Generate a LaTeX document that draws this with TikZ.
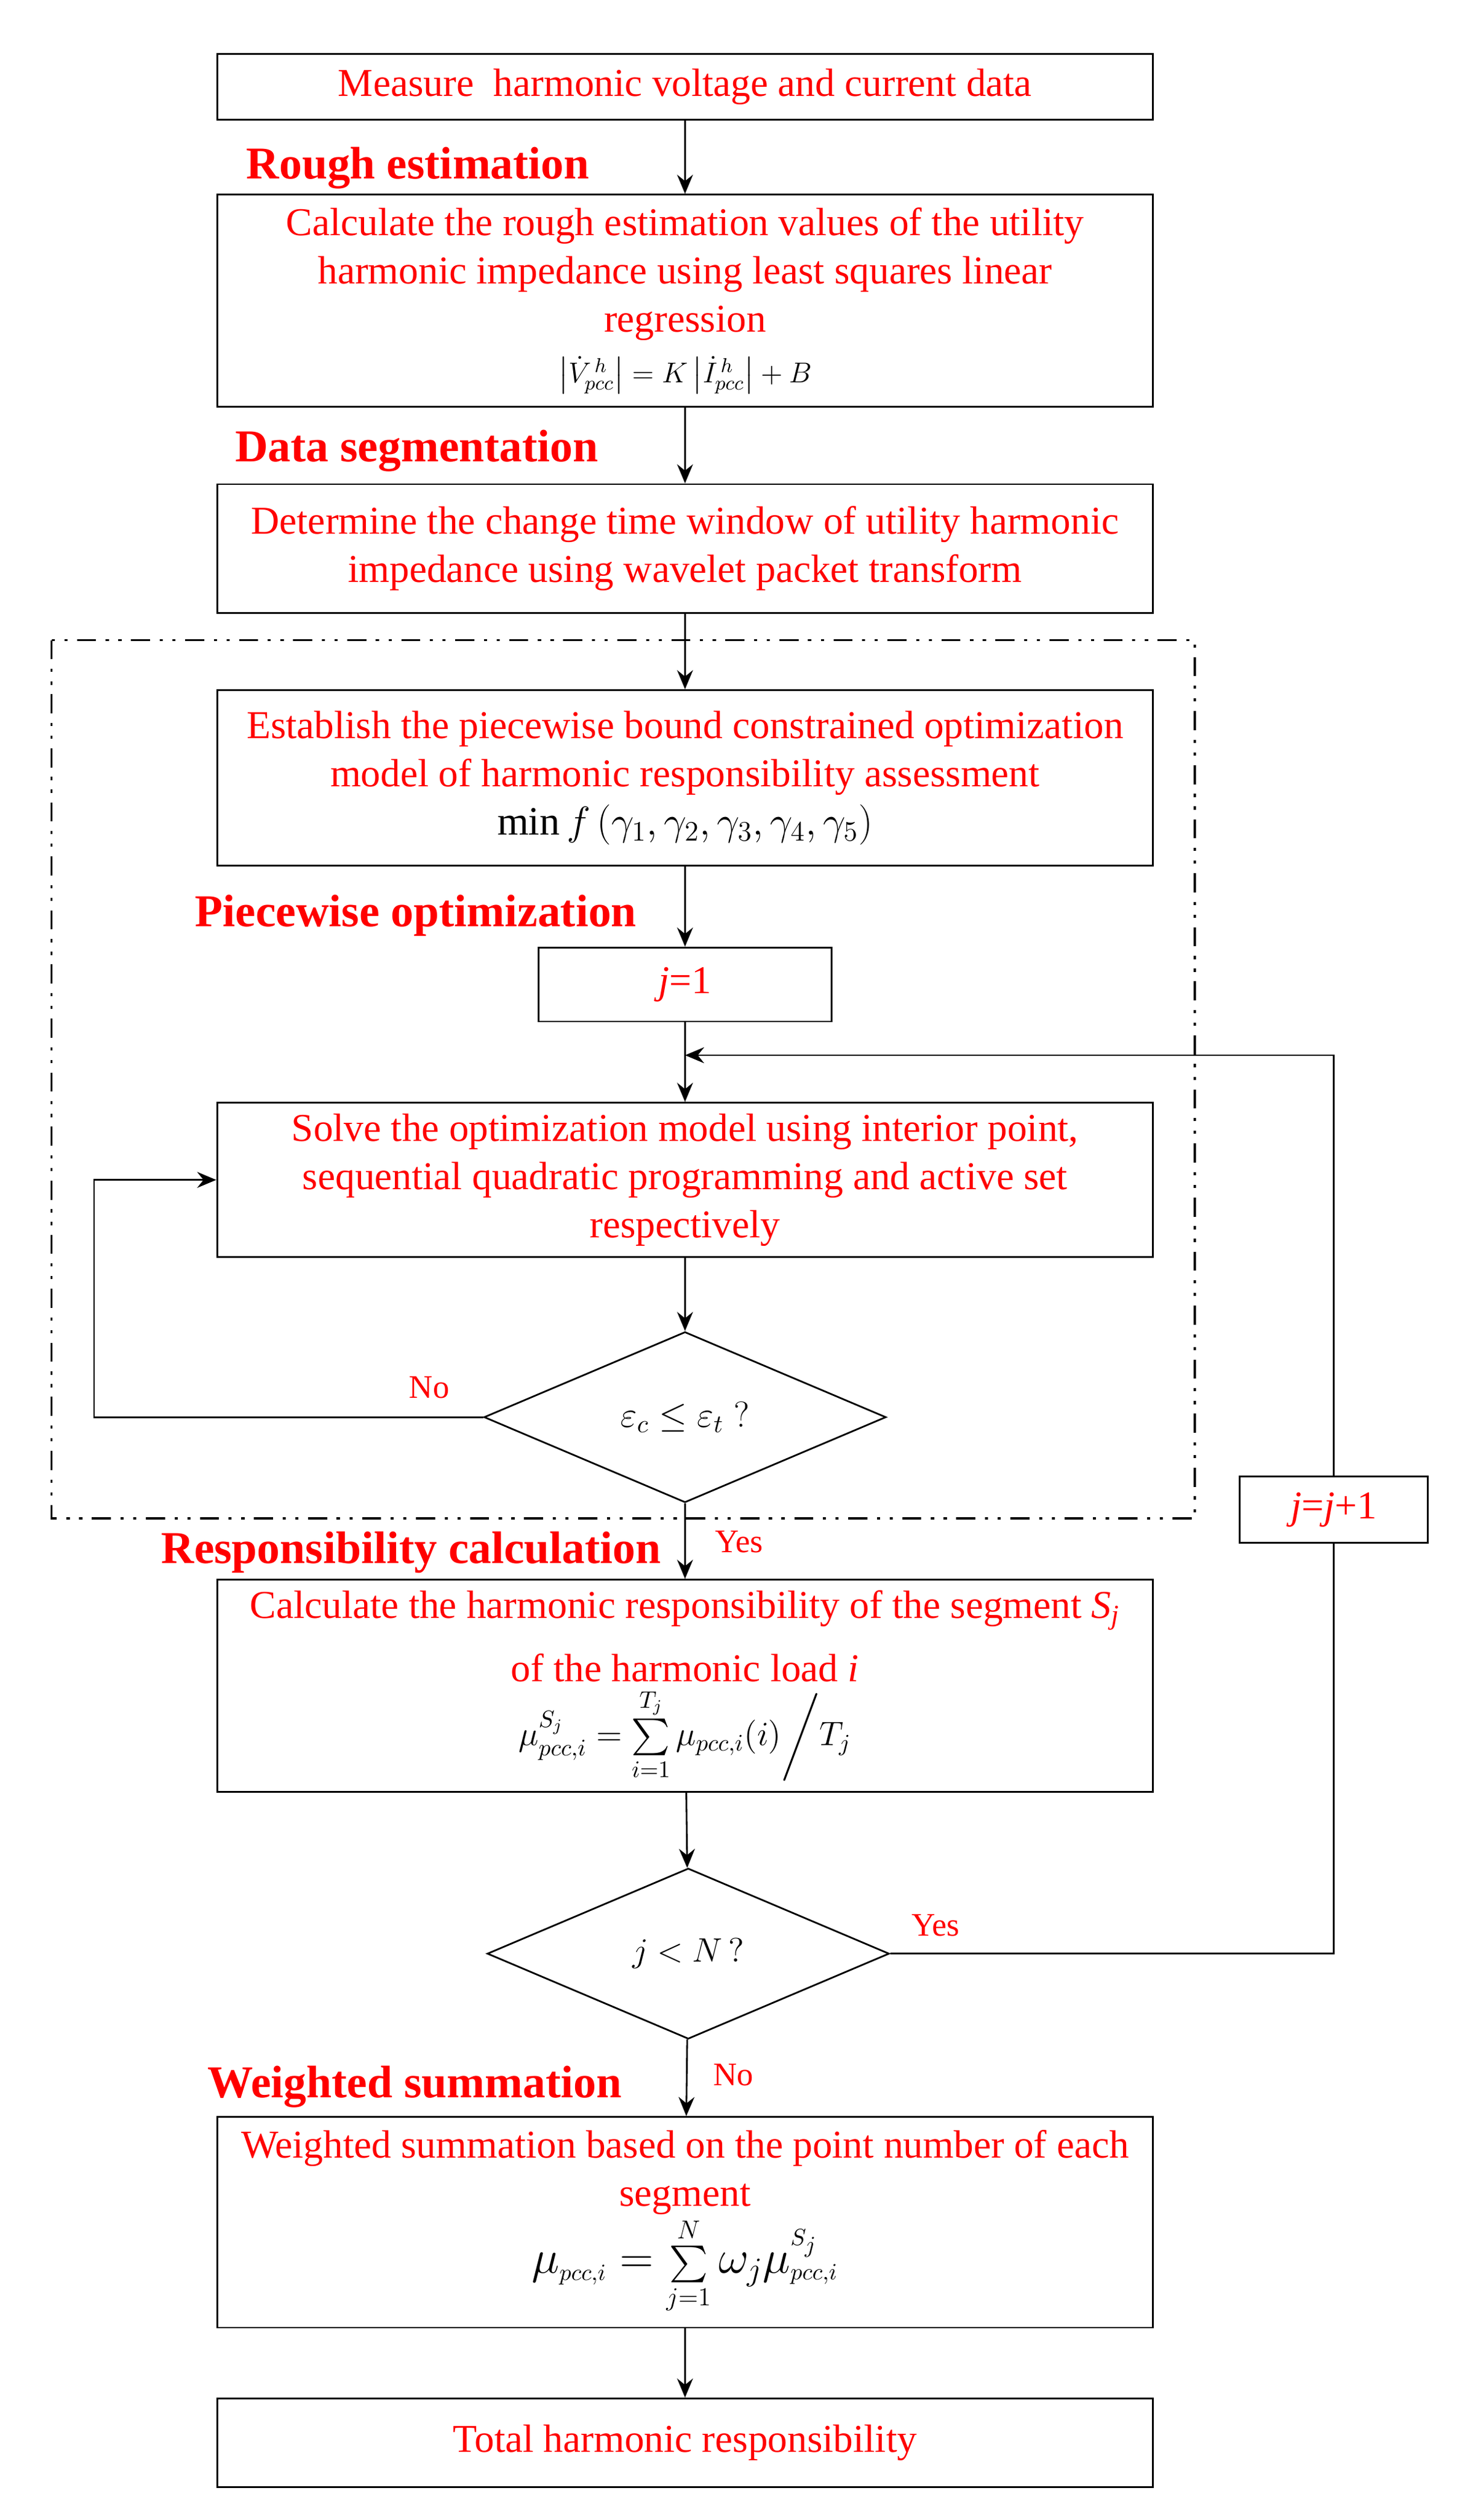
\RequirePackage{fix-cm}
\documentclass[tikz,border=0pt]{standalone}
\usepackage{exscale}
\usepackage{fontspec}
\setmainfont{Liberation Serif}
\usetikzlibrary{shapes.geometric,arrows.meta}

\begin{document}
\begin{tikzpicture}[x=0.26676mm,y=-0.26676mm,
 box/.style={draw,line width=0.8pt,minimum width=155.25mm,inner sep=0pt,align=center,text=red,font=\fontsize{18.6}{22.8}\selectfont},
 decision/.style={draw,diamond,line width=0.8pt,minimum width=66.69mm,minimum height=28.3mm,inner sep=0pt},
 stage/.style={anchor=base west,inner sep=0pt,text=red,font=\fontsize{21.5}{25}\selectfont\bfseries},
 lab/.style={inner sep=0pt,text=red,font=\fontsize{15.5}{18}\selectfont},
 flow/.style={line width=0.8pt,-{Stealth[length=9pt,width=7.5pt,inset=3pt]}},
 link/.style={line width=0.8pt},
 frame/.style={line width=1pt,dash pattern=on 9pt off 4.5pt on 1.5pt off 4.5pt on 1.5pt off 4.5pt}]
 \useasboundingbox (0,0) rectangle (906,1566.6);
 \node[box,minimum height=10.94mm] (measure) at (426,54) {Measure~ harmonic voltage and current data};
 \node[box,minimum height=35.21mm] (rough) at (426,187) {Calculate the rough estimation values of the utility\\ harmonic impedance using least squares linear\\ regression\\[1pt] {\color{black}\fontsize{13.5}{16}\selectfont $\left|\dot{V}^{\,h}_{pcc}\right| = K\left|\dot{I}^{\,h}_{pcc}\right| + B$}};
 \node[box,minimum height=21.34mm] (window) at (426,341) {Determine the change time window of utility harmonic\\ impedance using wavelet packet transform};
 \node[box,minimum height=29.08mm] (model) at (426,483.5) {Establish the piecewise bound constrained optimization\\ model of harmonic responsibility assessment\\ {\color{black}\fontsize{19}{22}\selectfont $\min f\left(\gamma_1,\gamma_2,\gamma_3,\gamma_4,\gamma_5\right)$}};
 \node[box,minimum width=48.55mm,minimum height=12.27mm] (start) at (426,612) {\textit{j}=1};
 \node[box,minimum height=25.61mm] (solve) at (426,733.5) {Solve the optimization model using interior point,\\ sequential quadratic programming and active set\\ respectively};
 \node[decision,font=\fontsize{17}{20}\selectfont] (conv) at (426,881) {$\varepsilon_c \le \varepsilon_t\;?$};
 \node[box,minimum height=35.21mm] (segresp) at (426,1048) {Calculate the harmonic responsibility of the segment \textit{S}\textsubscript{\textit{j}}\\[7pt] of the harmonic load \textit{i}\\[2pt] {\color{black}\fontsize{16}{19}\selectfont $\mu^{S_j}_{pcc,i} = \sum\limits_{i=1}^{T_j}\mu_{pcc,i}(i)\bigg/T_j$}};
 \node[decision,font=\fontsize{16}{19}\selectfont] (more) at (428,1214.5) {$j < N\,?$};
 \node[box,minimum width=31.21mm,minimum height=10.94mm] (inc) at (829.5,938.5) {\textit{j}=\textit{j}+1};
 \node[box,minimum height=34.95mm] (weight) at (426,1381.5) {Weighted summation based on the point number of each\\ segment\\ {\color{black}\fontsize{22}{26}\selectfont $\mu_{\scriptscriptstyle pcc,i} = \mbox{\fontsize{17.5}{20}\selectfont$\sum\limits_{j=1}^{N}$}\,\omega_j\mu^{\scriptscriptstyle S_j}_{\scriptscriptstyle pcc,i}$}};
 \node[box,minimum height=14.67mm] (total) at (426,1518.5) {Total harmonic responsibility};
 \node[stage] (hrough) at (153,111) {Rough estimation};
 \node[stage] (hdata) at (146,287) {Data segmentation};
 \node[stage] (hpiece) at (121,576) {Piecewise optimization};
 \node[stage] (hresp) at (100,972) {Responsibility calculation};
 \node[stage] (hweight) at (129,1304) {Weighted summation};
 \node[lab] (nofit) at (267,862.5) {No};
 \node[lab] (yesfit) at (459.5,958.5) {Yes};
 \node[lab] (yesmore) at (582,1197) {Yes};
 \node[lab] (nomore) at (456,1290) {No};
 \coordinate (join) at (426,656);
 \draw[frame] (32,398) rectangle (743,944);
 \draw[flow] (measure) -- (rough);
 \draw[flow] (rough) -- (window);
 \draw[flow] (window) -- (model);
 \draw[flow] (model) -- (start);
 \draw[flow] (start) -- (solve);
 \draw[flow] (solve) -- (conv);
 \draw[flow] (conv.west) -- ++(-242,0) |- (solve.west);
 \draw[flow] (conv) -- (segresp);
 \draw[flow] (segresp) -- (more);
 \draw[link] (more.east) -| (inc.south);
 \draw[flow] (inc.north) |- (join);
 \draw[flow] (more) -- (weight);
 \draw[flow] (weight) -- (total);
\end{tikzpicture}
\end{document}
